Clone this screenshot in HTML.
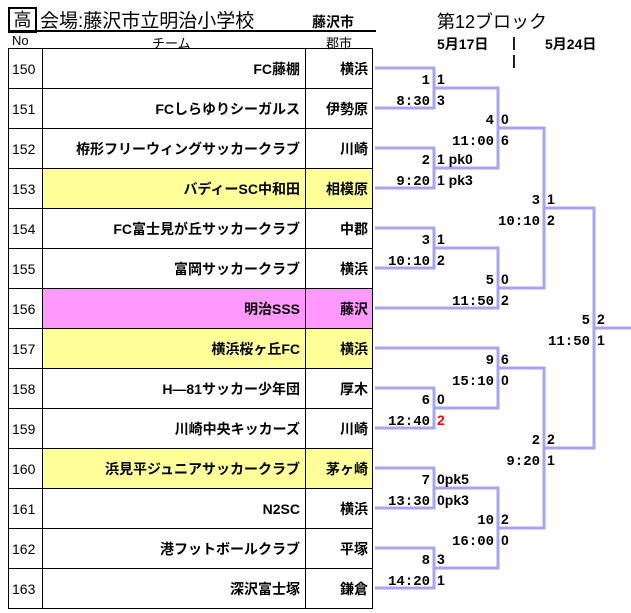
<!DOCTYPE html>
<html><head><meta charset="utf-8"><style>
body{margin:0;width:631px;height:613px;background:#fff;position:relative;overflow:hidden;font-family:"Liberation Sans","Noto Sans CJK JP",sans-serif;}
.a{position:absolute;white-space:nowrap;}
table{position:absolute;left:8px;top:48px;border-collapse:collapse;}
td{border:1px solid #000;height:39px;padding:0;font-size:14px;}
td.n{width:30px;padding-left:3px;font-size:14px;}
td.t{width:257px;text-align:right;padding-right:5px;font-weight:bold;}
td.c{width:62px;text-align:right;padding-right:4px;font-weight:bold;}
.y td.t,.y td.c{background:#ffff99}
.p td.t,.p td.c{background:#ff99ff}
</style></head><body>
<div class="a" style="left:8px;top:7px;width:25px;height:22px;border:2px solid #000;font-size:18px;line-height:22px;text-align:center;">高</div>
<div class="a" style="left:40px;top:6px;font-size:19px;">会場:藤沢市立明治小学校</div>
<div class="a" style="left:312px;top:12px;font-size:14px;font-weight:bold;">藤沢市</div>
<div class="a" style="left:8px;top:30px;width:368px;height:1.5px;background:#000;"></div>
<div class="a" style="left:437px;top:8px;font-size:18px;">第12ブロック</div>
<div class="a" style="left:12px;top:33px;font-size:13px;">No</div>
<div class="a" style="left:152px;top:33px;font-size:13px;">チーム</div>
<div class="a" style="left:326px;top:33px;font-size:13px;">郡市</div>
<div class="a" style="left:437px;top:34px;font-size:14px;font-weight:bold;">5月17日</div>
<div class="a" style="left:512px;top:34px;font-size:14px;font-weight:bold;">|</div>
<div class="a" style="left:512px;top:52px;font-size:14px;font-weight:bold;">|</div>
<div class="a" style="left:545px;top:34px;font-size:14px;font-weight:bold;">5月24日</div>
<table>
<tr><td class="n">150</td><td class="t">FC藤棚</td><td class="c">横浜</td></tr>
<tr><td class="n">151</td><td class="t">FCしらゆりシーガルス</td><td class="c">伊勢原</td></tr>
<tr><td class="n">152</td><td class="t">栫形フリーウィングサッカークラブ</td><td class="c">川崎</td></tr>
<tr class="y"><td class="n">153</td><td class="t">バディーSC中和田</td><td class="c">相模原</td></tr>
<tr><td class="n">154</td><td class="t">FC富士見が丘サッカークラブ</td><td class="c">中郡</td></tr>
<tr><td class="n">155</td><td class="t">富岡サッカークラブ</td><td class="c">横浜</td></tr>
<tr class="p"><td class="n">156</td><td class="t">明治SSS</td><td class="c">藤沢</td></tr>
<tr class="y"><td class="n">157</td><td class="t">横浜桜ヶ丘FC</td><td class="c">横浜</td></tr>
<tr><td class="n">158</td><td class="t">H―81サッカー少年団</td><td class="c">厚木</td></tr>
<tr><td class="n">159</td><td class="t">川崎中央キッカーズ</td><td class="c">川崎</td></tr>
<tr class="y"><td class="n">160</td><td class="t">浜見平ジュニアサッカークラブ</td><td class="c">茅ヶ崎</td></tr>
<tr><td class="n">161</td><td class="t">N2SC</td><td class="c">横浜</td></tr>
<tr><td class="n">162</td><td class="t">港フットボールクラブ</td><td class="c">平塚</td></tr>
<tr><td class="n">163</td><td class="t">深沢富士塚</td><td class="c">鎌倉</td></tr>
</table>
<svg class="a" style="left:0;top:0" width="631" height="613">
<g fill="none" stroke="#a4a4f8" stroke-width="3">
<path d="M375 68H434V108H375M434 88H498V168H434M375 148H434V188H375"/>
<path d="M375 228H434V268H375M434 248H498V308H375M498 128H544V288H498"/>
<path d="M544 208H594V448H544M594 328H631"/>
<path d="M375 348H498V408H434M375 388H434V428H375M498 368H544V528H498"/>
<path d="M375 468H434V508H375M434 488H498V568H434M375 548H434V588H375"/>
</g>
<g font-family="Liberation Mono,monospace" font-weight="bold" font-size="14">
<g text-anchor="end">
<text x="430" y="84">1</text><text x="430" y="105">8:30</text>
<text x="430" y="164">2</text><text x="430" y="185">9:20</text>
<text x="430" y="244">3</text><text x="430" y="265">10:10</text>
<text x="430" y="404">6</text><text x="430" y="425">12:40</text>
<text x="430" y="484">7</text><text x="430" y="505">13:30</text>
<text x="430" y="564">8</text><text x="430" y="585">14:20</text>
<text x="494" y="124">4</text><text x="494" y="145">11:00</text>
<text x="494" y="284">5</text><text x="494" y="305">11:50</text>
<text x="494" y="364">9</text><text x="494" y="385">15:10</text>
<text x="494" y="524">10</text><text x="494" y="545">16:00</text>
<text x="540" y="204">3</text><text x="540" y="225">10:10</text>
<text x="540" y="444">2</text><text x="540" y="465">9:20</text>
<text x="590" y="324">5</text><text x="590" y="345">11:50</text>
</g>
<g font-family="Liberation Sans,sans-serif">
<text x="437" y="84">1</text><text x="437" y="105">3</text>
<text x="437" y="164">1 pk0</text><text x="437" y="185">1 pk3</text>
<text x="437" y="244">1</text><text x="437" y="265">2</text>
<text x="437" y="404">0</text><text x="437" y="425" fill="#f00">2</text>
<text x="437" y="484">0pk5</text><text x="437" y="505">0pk3</text>
<text x="437" y="564">3</text><text x="437" y="585">1</text>
<text x="501" y="124">0</text><text x="501" y="145">6</text>
<text x="501" y="284">0</text><text x="501" y="305">2</text>
<text x="501" y="364">6</text><text x="501" y="385">0</text>
<text x="501" y="524">2</text><text x="501" y="545">0</text>
<text x="547" y="204">1</text><text x="547" y="225">2</text>
<text x="547" y="444">2</text><text x="547" y="465">1</text>
<text x="597" y="324">2</text><text x="597" y="345">1</text>
</g>
</g>
</svg>
</body></html>
